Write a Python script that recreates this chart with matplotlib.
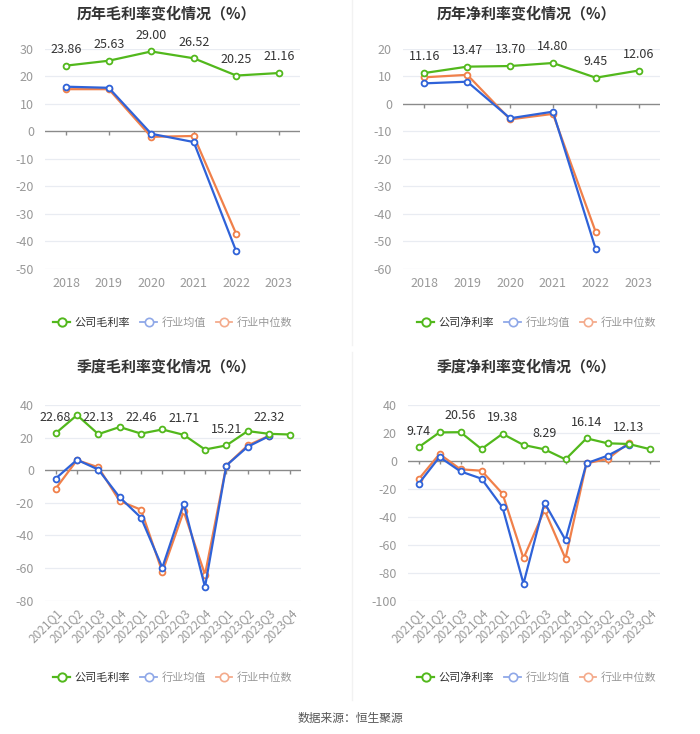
import matplotlib
matplotlib.use("Agg")
import matplotlib.pyplot as plt
from matplotlib.lines import Line2D

plt.rcParams['font.family'] = ['Noto Sans CJK SC', 'DejaVu Sans']

years = ['2018', '2019', '2020', '2021', '2022', '2023']
quarters = ['2021Q1', '2021Q2', '2021Q3', '2021Q4', '2022Q1', '2022Q2', '2022Q3', '2022Q4',
            '2023Q1', '2023Q2', '2023Q3', '2023Q4']

# Annual gross margin
ann_gross_co = [23.86, 25.63, 29.00, 26.52, 20.25, 21.16]
ann_gross_mean = [16.2, 15.8, -0.9, -3.9, -43.6, None]
ann_gross_med = [15.3, 15.3, -2.0, -1.7, -37.3, None]

# Annual net margin
ann_net_co = [11.16, 13.47, 13.70, 14.80, 9.45, 12.06]
ann_net_mean = [7.4, 8.0, -5.3, -2.9, -52.9, None]
ann_net_med = [9.6, 10.5, -5.7, -3.7, -46.7, None]

# Quarterly gross margin
q_gross_co = [22.68, 33.8, 22.13, 26.5, 22.46, 25.0, 21.71, 12.7, 15.21, 24.0, 22.32, 21.9]
q_gross_mean = [-5.1, 6.4, 0.4, -16.6, -29.1, -59.7, -20.5, -71.6, 2.9, 14.4, 20.9, None]
q_gross_med = [-11.3, 6.2, 1.8, -18.9, -24.2, -62.4, -25.2, -64.0, 2.9, 15.2, 21.1, None]

# Quarterly net margin
q_net_co = [9.74, 20.4, 20.56, 8.5, 19.38, 11.4, 8.29, 1.1, 16.14, 12.6, 12.13, 8.5]
q_net_mean = [-16.5, 2.8, -7.5, -12.7, -33.2, -87.8, -29.9, -56.6, -1.7, 3.7, 11.6, None]
q_net_med = [-13.2, 4.9, -6.0, -7.0, -23.4, -69.7, -35.1, -69.9, -1.7, 1.4, 12.8, None]

GREEN = '#52b81c'
BLUE = '#2f62d8'
ORANGE = '#f0804a'

W, H = 700, 734
fig = plt.figure(figsize=(7.0, 7.34), dpi=100)


def ax_at(x0, x1, y0, y1):
    return fig.add_axes([x0 / W, 1 - y1 / H, (x1 - x0) / W, (y1 - y0) / H])


def clean(vals):
    return [float('nan') if v is None else v for v in vals]


def panel(ax, cats, co, mean, med, ymin, ymax, step, rotate, label_every):
    xs = list(range(len(cats)))
    ax.set_xlim(-0.5, len(cats) - 0.5)
    ax.set_ylim(ymin, ymax)
    ticks = list(range(ymin, ymax + 1, step))
    ax.set_yticks(ticks)
    ax.set_yticklabels([str(t) for t in ticks], color='#999999', fontsize=9)
    for t in ticks:
        if t != 0:
            ax.axhline(t, color='#e9ecf2', lw=0.9, zorder=0)
    ax.axhline(0, color='#8a8a8a', lw=1.0, zorder=1)
    tick_len = (ymax - ymin) * 0.018
    ax.vlines(xs, -tick_len, 0, color='#8a8a8a', lw=1.0, zorder=1)
    for s in ax.spines.values():
        s.set_visible(False)
    ax.tick_params(axis='both', length=0)
    ax.set_xticks(xs)
    if rotate:
        ax.set_xticklabels(cats, rotation=45, ha='right', rotation_mode='anchor',
                           color='#999999', fontsize=8.5)
        ax.tick_params(axis='x', pad=4)
    else:
        ax.set_xticklabels(cats, color='#999999', fontsize=9)
        ax.tick_params(axis='x', pad=6)
    ax.tick_params(axis='y', pad=8)
    kw = dict(marker='o', ms=4.2, mfc='white', mew=1.3, lw=1.6, clip_on=False)
    ax.plot(xs, clean(med), color=ORANGE, zorder=3, **kw)
    ax.plot(xs, clean(mean), color=BLUE, zorder=4, **kw)
    ax.plot(xs, clean(co), color=GREEN, zorder=5, **kw)
    for i, v in enumerate(co):
        if i % label_every == 0:
            ax.annotate(f'{v:.2f}', (i, v), xytext=(0, 7), textcoords='offset points',
                        ha='center', va='bottom', fontsize=9, color='#333333', zorder=6)
    ax.set_facecolor('none')


ax1 = ax_at(45, 300, 48.7, 269)
panel(ax1, years, ann_gross_co, ann_gross_mean, ann_gross_med, -50, 30, 10, False, 1)
ax2 = ax_at(403, 660, 48.7, 268.7)
panel(ax2, years, ann_net_co, ann_net_mean, ann_net_med, -60, 20, 10, False, 1)
ax3 = ax_at(45, 301, 405, 600.7)
panel(ax3, quarters, q_gross_co, q_gross_mean, q_gross_med, -80, 40, 20, True, 2)
ax4 = ax_at(408, 660, 405, 600.7)
panel(ax4, quarters, q_net_co, q_net_mean, q_net_med, -100, 40, 20, True, 2)

title_kw = dict(ha='center', va='center', fontsize=10.8, fontweight='bold', color='#333333')
fig.text(166 / W, 1 - 13 / H, '历年毛利率变化情况（%）', **title_kw)
fig.text(526 / W, 1 - 13 / H, '历年净利率变化情况（%）', **title_kw)
fig.text(166 / W, 1 - 366 / H, '季度毛利率变化情况（%）', **title_kw)
fig.text(526 / W, 1 - 366 / H, '季度净利率变化情况（%）', **title_kw)

# separator
fig.add_artist(Line2D([352 / W, 352 / W], [1 - 345 / H, 1.0], color='#f2f2f2', lw=1))
fig.add_artist(Line2D([352 / W, 352 / W], [1 - 700 / H, 1 - 352 / H], color='#f2f2f2', lw=1))


def legend(cx, cy, first):
    handles = [
        Line2D([], [], color=GREEN, marker='o', mfc='white', ms=6, mew=1.4, lw=1.6),
        Line2D([], [], color='#8fa8e8', marker='o', mfc='white', ms=6, mew=1.2, lw=1.3),
        Line2D([], [], color='#f4ab8c', marker='o', mfc='white', ms=6, mew=1.2, lw=1.3),
    ]
    fig.legend(handles=handles, labels=[first, '行业均值', '行业中位数'],
               loc='center', bbox_to_anchor=(cx / W, 1 - cy / H), ncol=3, frameon=False,
               fontsize=8, handlelength=1.5, handletextpad=0.4, columnspacing=0.9,
               labelcolor=['#333333', '#999999', '#999999'])


legend(173, 322.5, '公司毛利率')
legend(537, 322.5, '公司净利率')
legend(173, 678, '公司毛利率')
legend(537, 678, '公司净利率')

fig.text(350 / W, 1 - 718 / H, '数据来源：恒生聚源', ha='center', va='center',
         fontsize=8.5, color='#555555')

fig.savefig('out.png', dpi=100, facecolor='white')
